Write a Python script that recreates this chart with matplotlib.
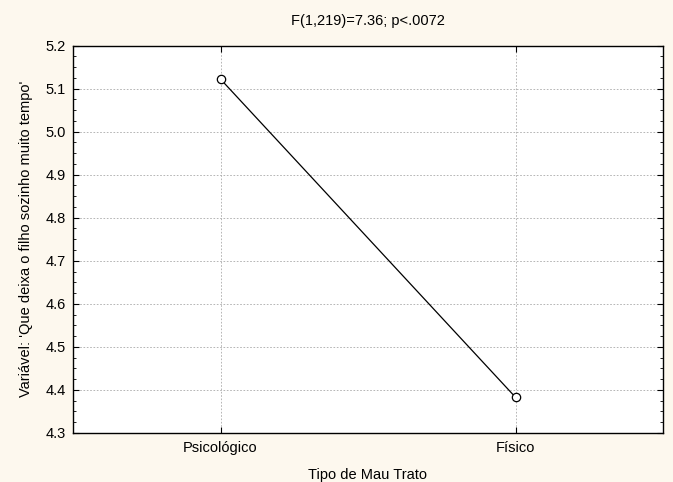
import matplotlib
matplotlib.use("Agg")
import matplotlib.pyplot as plt
from matplotlib.ticker import MultipleLocator

plt.rcParams['font.family'] = ['Liberation Sans', 'DejaVu Sans']

categories = ["Psicológico", "Físico"]
means = [5.122, 4.383]
title = "F(1,219)=7.36; p<.0072"
xlabel = "Tipo de Mau Trato"
ylabel = "Variável: 'Que deixa o filho sozinho muito tempo'"

fs = 10.5
bg = "#fdf8ee"
fig = plt.figure(figsize=(6.73, 4.82), dpi=100, facecolor=bg)
ax = fig.add_axes([73/673, 1 - 433/482, (663 - 73)/673, (433 - 45.5)/482])
ax.set_facecolor("white")

x = list(range(len(categories)))
ax.plot(x, means, color="black", lw=0.9, marker="o", markersize=6,
        markerfacecolor="white", markeredgecolor="black", markeredgewidth=0.9, zorder=3)

ax.set_xlim(-0.5, 1.5)
ax.set_ylim(4.3, 5.2)
ax.set_xticks(x)
ax.set_xticklabels(categories)
ax.yaxis.set_major_locator(MultipleLocator(0.1))
ax.yaxis.set_minor_locator(MultipleLocator(0.025))
ax.yaxis.set_major_formatter(plt.FuncFormatter(lambda v, p: f"{v:.1f}"))

ax.grid(True, which="major", color="#aaaaaa", linestyle=(0, (2, 2)), linewidth=0.6)
ax.tick_params(axis="both", which="both", direction="in", labelsize=fs, colors="black")
ax.tick_params(axis="y", which="major", length=4, width=0.8, right=True, pad=5)
ax.tick_params(axis="y", which="minor", length=2.5, width=0.6, right=True)
ax.tick_params(axis="x", which="major", length=4, width=0.8, top=True, pad=5.5)

for s in ax.spines.values():
    s.set_color("black")
    s.set_linewidth(1.0)

ax.set_title(title, fontsize=fs, pad=15)
ax.set_xlabel(xlabel, fontsize=fs, labelpad=9.5)
ax.set_ylabel(ylabel, fontsize=fs, labelpad=9)

fig.savefig("out.png", dpi=100, facecolor=bg)
